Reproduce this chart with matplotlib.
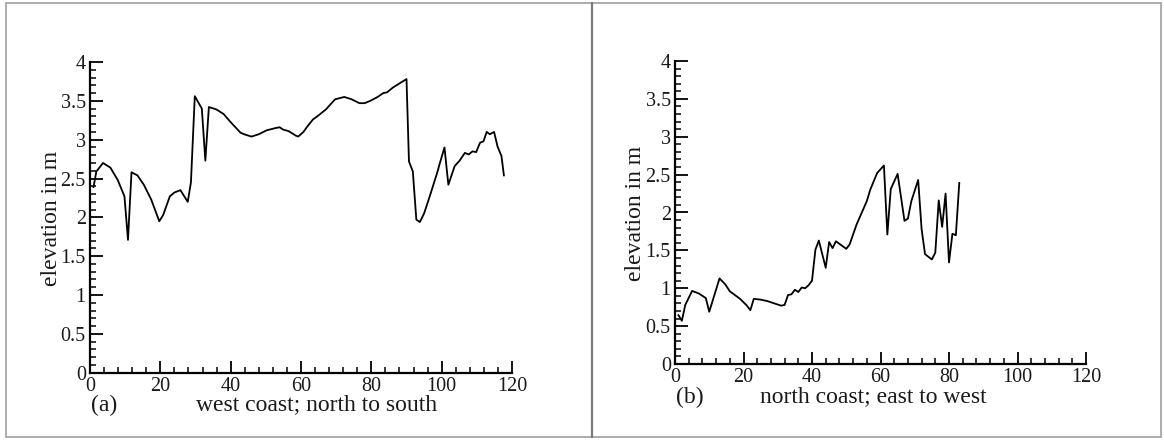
import matplotlib
matplotlib.use("Agg")
import matplotlib.pyplot as plt
from matplotlib.ticker import MultipleLocator
from matplotlib.patches import Rectangle
from matplotlib.lines import Line2D

# ---- data ----
west_x = [1, 1.8, 3.7, 5.8, 7.9, 9.8, 10.8, 11.8, 13.5, 15.3, 17.4, 19.7, 20.8, 22.7, 24,
          25.7, 27.8, 28.7, 29.8, 31.8, 32.8, 33.8, 35.9, 38, 40.1, 42.8, 43.8, 45.9, 48,
          50.2, 52.8, 53.9, 54.9, 56.5, 58.6, 59.2, 60.7, 61.8, 63.4, 64.9, 67.1, 68.1,
          69.7, 72.3, 74.4, 76.6, 78.1, 79.7, 81.8, 83.4, 84.5, 86.1, 88.2, 90, 90.7,
          91.8, 92.8, 93.8, 95, 96.6, 98.7, 99.5, 100.8, 101.9, 103.7, 105.1, 106.6,
          107.7, 108.8, 109.8, 110.9, 111.9, 112.8, 113.7, 114.9, 115.9, 117, 117.7]
west_y = [2.39, 2.59, 2.70, 2.64, 2.48, 2.27, 1.71, 2.58, 2.54, 2.42, 2.23, 1.95, 2.03, 2.27,
          2.32, 2.35, 2.20, 2.45, 3.56, 3.40, 2.73, 3.42, 3.39, 3.33, 3.22, 3.09, 3.07, 3.04,
          3.07, 3.12, 3.15, 3.16, 3.13, 3.11, 3.05, 3.04, 3.10, 3.17, 3.26, 3.31, 3.39, 3.44,
          3.52, 3.55, 3.52, 3.47, 3.47, 3.50, 3.55, 3.60, 3.61, 3.67, 3.73, 3.78, 2.72, 2.59,
          1.97, 1.94, 2.05, 2.27, 2.57, 2.70, 2.90, 2.42, 2.66, 2.73, 2.83, 2.81, 2.85, 2.84,
          2.96, 2.98, 3.10, 3.07, 3.10, 2.91, 2.79, 2.54]

north_x = [1, 2, 3, 5, 7, 9, 10, 13, 14.7, 16, 19, 21, 22, 23, 25, 27, 29, 31, 32, 33, 34,
           35, 36, 37, 38, 39, 40, 41, 42, 44, 45, 46, 47, 50, 51, 53, 56, 57, 59, 61, 62,
           63, 65, 67, 68, 69, 71, 72, 73, 75, 76, 77, 78, 79, 80, 81, 82, 83]
north_y = [0.645, 0.57, 0.78, 0.965, 0.93, 0.87, 0.69, 1.13, 1.05, 0.96, 0.86, 0.77, 0.71,
           0.86, 0.85, 0.83, 0.80, 0.77, 0.78, 0.91, 0.92, 0.98, 0.95, 1.01, 1.00, 1.04,
           1.10, 1.51, 1.63, 1.27, 1.61, 1.53, 1.62, 1.52, 1.58, 1.84, 2.15, 2.30, 2.52,
           2.62, 1.71, 2.31, 2.51, 1.89, 1.92, 2.15, 2.43, 1.78, 1.45, 1.38, 1.47, 2.16,
           1.81, 2.25, 1.34, 1.72, 1.70, 2.39]

x_ticks = [0, 20, 40, 60, 80, 100, 120]
y_ticks = [0, 0.5, 1, 1.5, 2, 2.5, 3, 3.5, 4]
y_ticklabels = ["0", "0.5", "1", "1.5", "2", "2.5", "3", "3.5", "4"]
ylabel = "elevation in m"
panel_tags = ["(a)", "(b)"]
xlabels = ["west coast; north to south", "north coast; east to west"]

W, H = 1164, 440
fig = plt.figure(figsize=(W / 100, H / 100), dpi=100)
fig.patch.set_facecolor("white")
plt.rcParams["font.family"] = ["Liberation Serif", "DejaVu Serif"]
TXT = "#1a1a1a"


def px_axes(x0, y0, x1, y1):
    # pixel box (top-left origin) -> figure fractions
    return [x0 / W, 1 - y1 / H, (x1 - x0) / W, (y1 - y0) / H]


def style(ax):
    ax.set_xlim(0, 120)
    ax.set_ylim(0, 4)
    for s in ("top", "right"):
        ax.spines[s].set_visible(False)
    for s in ("left", "bottom"):
        ax.spines[s].set_linewidth(1.6)
        ax.spines[s].set_color("black")
    ax.set_xticks(x_ticks)
    ax.set_xticklabels([str(v) for v in x_ticks])
    ax.set_yticks(y_ticks)
    ax.set_yticklabels(y_ticklabels)
    ax.xaxis.set_minor_locator(MultipleLocator(4))
    ax.yaxis.set_minor_locator(MultipleLocator(0.1))
    ax.tick_params(which="major", direction="in", length=9, width=1.3, labelsize=14.5,
                   labelcolor=TXT, pad=3)
    ax.tick_params(which="minor", direction="in", length=4.5, width=1.1)
    ax.tick_params(top=False, right=False, which="both")
    ax.set_facecolor("none")


ax1 = fig.add_axes(px_axes(90, 62, 512, 372.7))
style(ax1)
ax1.plot(west_x, west_y, color="black", lw=1.3, clip_on=False)

ax2 = fig.add_axes(px_axes(675, 61, 1086, 364))
style(ax2)
ax2.plot(north_x, north_y, color="black", lw=1.3, clip_on=False)

# labels as figure text, positioned in pixels
def ftext(x, y, s, **kw):
    fig.text(x / W, 1 - y / H, s, color=TXT, **kw)

ftext(51.8, 218, ylabel, rotation=90, ha="center", va="center", fontsize=17)
ftext(636, 213, ylabel, rotation=90, ha="center", va="center", fontsize=17)
ftext(90.5, 405, panel_tags[0], ha="left", va="center", fontsize=17)
ftext(676, 397, panel_tags[1], ha="left", va="center", fontsize=17)
ftext(317, 405, xlabels[0], ha="center", va="center", fontsize=17)
ftext(873, 397, xlabels[1], ha="center", va="center", fontsize=17)

# frame and divider
fig.add_artist(Rectangle((6 / W, 1 - 437 / H), (1161 - 6) / W, (437 - 3) / H,
                         transform=fig.transFigure, fill=False, edgecolor="#a0a0a0",
                         lw=1.2))
fig.add_artist(Line2D([592 / W, 592 / W], [1 - 3 / H, 1 - 437 / H],
                      transform=fig.transFigure, color="#7a7a7a", lw=1.6))

fig.savefig("out.png", dpi=100, facecolor="white")
